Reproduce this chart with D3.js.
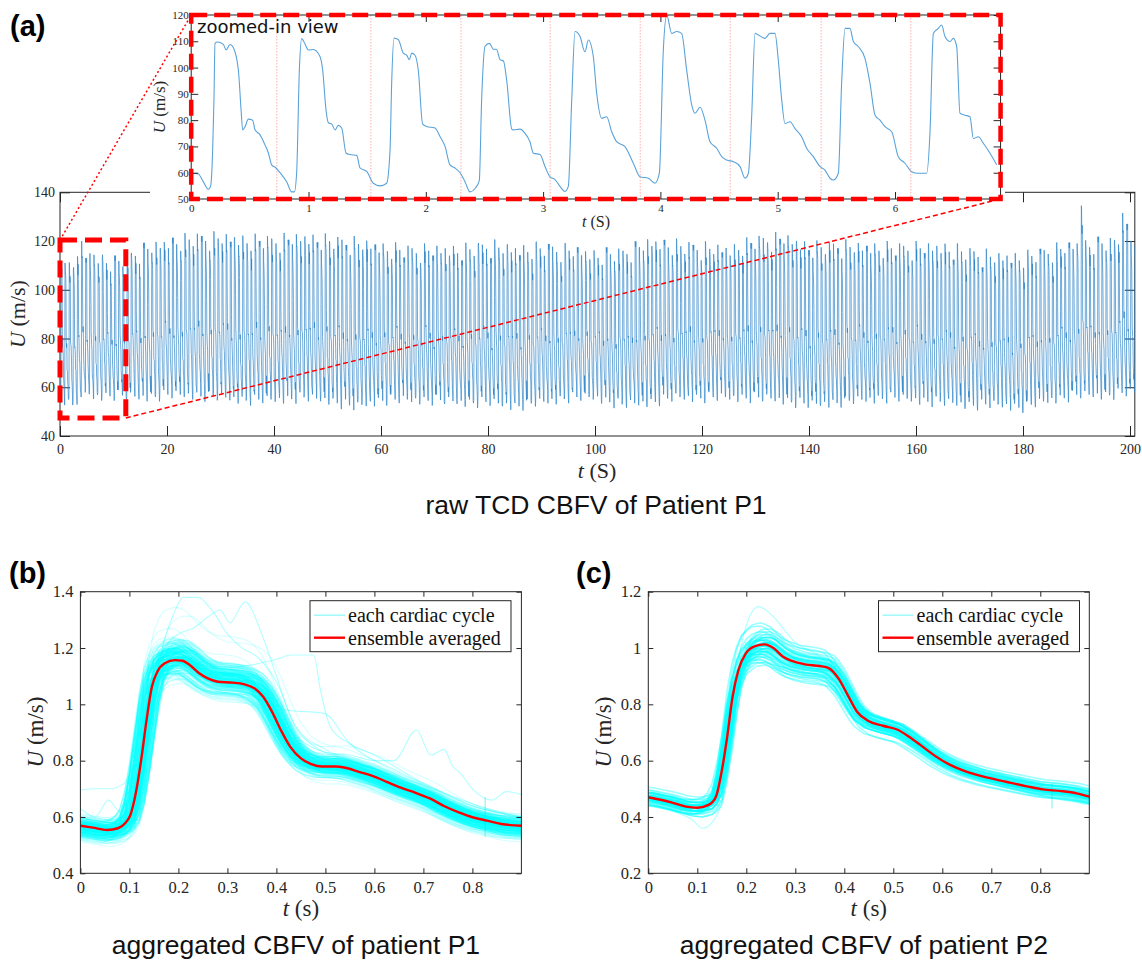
<!DOCTYPE html>
<html><head><meta charset="utf-8">
<script src="https://cdn.jsdelivr.net/npm/d3@7"></script>
<style>body{margin:0;background:#fff}svg{display:block}</style>
</head><body>
<svg id="fig" width="1142" height="967"></svg>
<script>
// ---------------- DATA ----------------
// zoomed-in raw trace (first ~6.9 s)
const insetT = [0,0.018,0.061,0.103,0.146,0.166,0.183,0.194,0.203,0.223,0.274,0.297,0.331,0.359,0.402,0.425,0.439,0.459,0.487,0.524,0.544,0.587,0.629,0.658,0.686,0.723,0.757,0.814,0.857,0.879,0.899,0.922,0.942,0.970,0.999,1.041,1.098,1.121,1.149,1.169,1.198,1.226,1.254,1.283,1.320,1.354,1.411,1.439,1.496,1.553,1.610,1.666,1.695,1.709,1.729,1.766,1.808,1.837,1.860,1.880,1.908,1.936,1.973,2.007,2.078,2.121,2.164,2.206,2.249,2.292,2.334,2.377,2.420,2.456,2.476,2.505,2.542,2.576,2.604,2.633,2.662,2.690,2.733,2.746,2.803,2.846,2.888,2.917,2.974,3.016,3.059,3.101,3.144,3.187,3.215,3.244,3.272,3.315,3.357,3.386,3.428,3.457,3.500,3.542,3.585,3.627,3.698,3.769,3.826,3.897,3.954,3.991,4.025,4.054,4.096,4.139,4.181,4.224,4.267,4.295,4.338,4.380,4.423,4.480,4.523,4.565,4.622,4.679,4.721,4.750,4.778,4.807,4.835,4.892,4.934,4.977,5.005,5.034,5.062,5.105,5.148,5.204,5.247,5.304,5.361,5.403,5.446,5.474,5.517,5.545,5.574,5.616,5.645,5.687,5.744,5.787,5.830,5.872,5.915,5.972,6.028,6.085,6.142,6.199,6.270,6.298,6.327,6.369,6.398,6.426,6.469,6.497,6.526,6.554,6.597,6.639,6.668,6.710,6.753,6.810,6.867];
const insetV = [60,59.8,59.5,56.6,53.7,55,68.7,87.7,109.2,109.7,108.8,106.7,108.8,107.6,99.1,84,76.3,77.5,80.4,80,76.3,74.4,70.6,67.5,63,61.8,60,56.6,52.7,52.7,60,99,111,109,106.7,106.9,104.2,99,84,79,78.5,76.3,78,77,67.5,66.9,66.6,61.8,60.5,56,55,56,68.5,94,111.2,110.6,105.5,104.7,103,105.5,104.7,99,78.5,77.6,77,73.8,70,63,61.8,60,56.6,52.7,54,57,87.7,108.1,109.2,107,106.9,103,102.5,95,76.6,76.3,76.6,75,71.8,67.4,66.9,62.4,58.4,57.4,54.8,52.9,54.8,87.7,113.7,111.8,106,110.5,104.2,90.2,80.7,81.3,75.6,71.8,69.9,63.6,58.5,57.9,56,59.8,106.7,120,113,113.7,113,99,85.8,82.6,84.9,80,71.8,69.3,66.1,64.8,64.2,62.3,57.9,59.8,81.3,113,112.4,111.1,113,113,102.9,87.7,78.7,79.4,76.8,73.7,69.3,66.1,62.3,61,57.9,57.2,59.8,94,114.9,114.9,109.9,108,103.5,94,81.9,80,77.5,75.6,66.1,63.6,60.4,59.8,59.8,75,113,114.9,116.2,111.8,109.9,111.1,108,82.6,81.9,81.3,73,73.7,71.2,67.4,63];
// cardiac-cycle boundaries marked in the inset (s)
const cycleMarks = [0.73,1.532,2.30,3.06,3.828,4.595,5.37,6.135];
// upper / lower envelope of the 200 s record, every 5 s
const envT = [0,5,10,15,20,25,30,35,40,45,50,55,60,65,70,75,80,85,90,95,100,105,110,115,120,125,130,135,140,145,150,155,160,165,170,175,180,185,190,195,200];
const peakEnv = [113,115,112,117,120,122,122,121,121,122,121,120,118,117,117,117,119,117,118,117,115,116,120,119,118,117,121,122,118,119,118,118,118,118,116,114,114,117,119,120,121];
const troughEnv = [54,55,56,55,56,56,55,54,54,55,54,51,54,54,54,53,53,51.5,53,55,55,52,53,55,55,55,55,54,52,53,54,55,54,53,52,52,51,54,56,56,57];
const peakJitter = [0,-3,1,-2,-5,2,-1,-4,1,0,-2,-6,2,-1,-3,1,-2];
const troughJitter = [0,1.5,-1,2,0.5,-1.5,3,1,-0.5,2.5,1];
const spikes = [[191.2,134.5],[198.8,131.5],[199.6,127]];
const mainXMax = 200.9;

// ensemble averages
const meanBT = [0,0.0255,0.0547,0.0766,0.0912,0.102,0.113,0.124,0.135,0.146,0.157,0.172,0.193,0.208,0.223,0.241,0.26,0.281,0.311,0.333,0.355,0.373,0.391,0.409,0.428,0.45,0.471,0.493,0.523,0.545,0.567,0.596,0.625,0.654,0.684,0.713,0.742,0.771,0.80,0.83,0.859,0.90];
const meanBV = [0.569,0.562,0.554,0.560,0.578,0.607,0.684,0.802,0.944,1.063,1.116,1.146,1.157,1.155,1.140,1.112,1.092,1.080,1.077,1.072,1.057,1.027,0.974,0.909,0.850,0.808,0.788,0.779,0.779,0.773,0.761,0.746,0.725,0.704,0.686,0.666,0.639,0.617,0.599,0.587,0.575,0.569];
const meanCT = [0,0.047,0.077,0.10,0.123,0.138,0.149,0.161,0.172,0.184,0.199,0.218,0.237,0.256,0.275,0.293,0.32,0.35,0.369,0.388,0.407,0.426,0.449,0.479,0.51,0.532,0.555,0.585,0.616,0.646,0.684,0.73,0.775,0.805,0.843,0.874,0.90];
const meanCV = [0.470,0.452,0.437,0.433,0.443,0.472,0.555,0.685,0.827,0.922,0.981,1.007,1.013,0.999,0.969,0.954,0.942,0.936,0.928,0.892,0.833,0.774,0.741,0.724,0.709,0.685,0.656,0.617,0.585,0.563,0.543,0.525,0.508,0.498,0.492,0.484,0.472];
// per-cycle timing offsets (s)
const dtB = [0,-0.012,0.008,-0.004,0.015,-0.02,0.004,0.01,-0.008,0.02,-0.015,0.006,-0.002];
// patient P2 per-cycle peak / trough / timing
const peakC = [1.01,0.98,1.04,0.99,1.06,1.02,0.96,1.00,1.03,0.97,1.05,1.01,0.99,1.08,0.95,1.02,1.00,1.04,0.98,1.03,1.01,0.97,1.06,0.99,1.02,1.00,0.94,1.04,1.01,0.98,1.03,1.07,0.99,1.00,1.02,0.96,1.05,1.01,0.98,1.03,1.00,0.97,1.04,1.02,0.99,1.01,0.95,1.03,1.00,1.09];
const troughC = [0.43,0.42,0.45,0.44,0.41,0.43,0.46,0.42,0.44,0.43,0.40,0.45,0.43,0.42,0.44,0.47,0.43,0.41,0.44,0.42,0.45,0.43,0.42,0.44,0.46,0.43,0.41,0.44,0.42,0.43,0.45,0.42,0.44,0.43,0.40,0.44,0.42,0.45,0.43,0.41,0.44,0.43,0.46,0.42,0.43,0.44,0.41,0.45,0.43,0.42];
const dtC = [0,-0.008,0.006,0.012,-0.004,0.003,-0.012,0.008,0,-0.006,0.01,-0.002,0.005,-0.01,0.002,0.007,-0.005,0.011,-0.009,0.001,0.004,-0.007,0.009,-0.003,0.006,-0.011,0.002,0.008,-0.001,0.005,-0.006,0.01,-0.004,0.003,0.012,-0.008,0.001,0.007,-0.002,-0.009,0.004,0.006,-0.005,0.009,-0.003,0.002,-0.01,0.005,0.008,-0.006];
// individual outlying cycles
const outB = [
 {t:[0,0.05,0.09,0.11,0.13,0.15,0.17,0.19,0.21,0.24,0.27,0.3,0.33,0.36,0.4,0.44,0.5,0.6,0.7,0.8,0.9], v:[0.6,0.58,0.58,0.62,0.8,1.05,1.22,1.32,1.38,1.38,1.33,1.25,1.2,1.17,1.08,0.92,0.84,0.77,0.68,0.62,0.6]},
 {t:[0,0.05,0.1,0.12,0.14,0.16,0.18,0.2,0.23,0.26,0.285,0.305,0.336,0.37,0.4,0.43,0.47,0.55,0.65,0.75,0.85,0.9], v:[0.57,0.56,0.58,0.7,0.95,1.15,1.22,1.25,1.27,1.31,1.335,1.29,1.364,1.25,1.1,0.95,0.86,0.8,0.74,0.66,0.6,0.58]},
 {t:[0,0.05,0.1,0.12,0.14,0.16,0.2,0.25,0.3,0.35,0.4,0.43,0.476,0.49,0.51,0.55,0.6,0.7,0.8,0.9], v:[0.58,0.57,0.59,0.72,0.98,1.12,1.17,1.15,1.13,1.14,1.16,1.175,1.175,1.05,0.92,0.86,0.82,0.72,0.64,0.6]},
 {t:[0,0.03,0.06,0.09,0.11,0.13,0.15,0.18,0.22,0.3,0.38,0.42,0.46,0.5,0.55,0.6,0.64,0.686,0.715,0.742,0.76,0.776,0.8,0.84,0.87,0.9], v:[0.695,0.70,0.70,0.72,0.78,0.86,1.0,1.12,1.15,1.1,1.02,0.92,0.86,0.83,0.82,0.8,0.8,0.909,0.82,0.84,0.78,0.755,0.7,0.66,0.69,0.68]},
 {t:[0,0.03,0.0575,0.08,0.111,0.13,0.15,0.18,0.25,0.35,0.42,0.497,0.55,0.65,0.75,0.85,0.9], v:[0.63,0.6,0.66,0.62,0.85,0.95,1.1,1.18,1.14,1.1,0.98,0.968,0.86,0.76,0.68,0.62,0.6]}
];
const outC = [
 {t:[0,0.05,0.1,0.14,0.16,0.18,0.2,0.225,0.25,0.3,0.35,0.4,0.45,0.5,0.6,0.7,0.8,0.9], v:[0.48,0.46,0.44,0.47,0.66,0.92,1.08,1.147,1.12,1.02,0.97,0.88,0.77,0.74,0.63,0.56,0.52,0.5]},
 {t:[0,0.05,0.09,0.111,0.13,0.15,0.17,0.19,0.22,0.3,0.38,0.42,0.48,0.55,0.65,0.75,0.85,0.9], v:[0.44,0.42,0.39,0.36,0.38,0.45,0.62,0.85,0.95,0.92,0.88,0.78,0.7,0.66,0.56,0.5,0.46,0.45]}
];
const jumpB = {t:0.826, lo:0.53, hi:0.67};
const jumpC = {t:0.824, lo:0.43, hi:0.52};
// ticks
const mainXTicks = [0,20,40,60,80,100,120,140,160,180,200];
const mainYTicks = [40,60,80,100,120,140];
const insetXTicks = [0,1,2,3,4,5,6];
const insetYTicks = [50,60,70,80,90,100,110,120];
const bXTicks = [0,0.1,0.2,0.3,0.4,0.5,0.6,0.7,0.8];
const bYTicks = [0.4,0.6,0.8,1,1.2,1.4];
const cYTicks = [0.2,0.4,0.6,0.8,1,1.2];
const zoomBox = {t0:0, t1:12.3, v0:47.4, v1:120.4};

// ---------------- HELPERS ----------------
function lerp(xs, ys, x){
  if (x <= xs[0]) return ys[0];
  if (x >= xs[xs.length-1]) return ys[ys.length-1];
  const i = d3.bisectRight(xs, x) - 1;
  const f = (x - xs[i])/(xs[i+1]-xs[i]);
  return ys[i] + f*(ys[i+1]-ys[i]);
}
const svg = d3.select("#fig");
const SERIF = "'Liberation Serif','Times New Roman',serif";
const SANS = "'Liberation Sans',Arial,sans-serif";
const AX = "#262626";

function styleAxis(g, fs){
  g.attr("font-family", SERIF).attr("font-size", fs);
  g.select(".domain").remove();
  g.selectAll(".tick line").attr("stroke", AX).attr("stroke-width", 1);
  g.selectAll(".tick text").attr("fill", AX).style("font-family", SERIF).style("font-size", fs+"px");
}
function boxAxes(x, y, xt, yt, tick, fs, padX, padY, fmt){
  const [x0,x1] = x.range(), [y0,y1] = y.range();
  const g = svg.append("g");
  const gb = g.append("g").attr("transform",`translate(0,${y0})`)
    .call(d3.axisBottom(x).tickValues(xt).tickSize(-tick).tickSizeOuter(0).tickPadding(padX).tickFormat(fmt||d3.format("")));
  styleAxis(gb, fs);
  const gt = g.append("g").attr("transform",`translate(0,${y1})`)
    .call(d3.axisTop(x).tickValues(xt).tickSize(-tick).tickSizeOuter(0).tickFormat(""));
  styleAxis(gt, fs);
  const gl = g.append("g").attr("transform",`translate(${x0},0)`)
    .call(d3.axisLeft(y).tickValues(yt).tickSize(-tick).tickSizeOuter(0).tickPadding(padY).tickFormat(fmt||d3.format("")));
  styleAxis(gl, fs);
  const gr = g.append("g").attr("transform",`translate(${x1},0)`)
    .call(d3.axisRight(y).tickValues(yt).tickSize(-tick).tickSizeOuter(0).tickFormat(""));
  styleAxis(gr, fs);
  g.append("rect").attr("x",x0).attr("y",y1).attr("width",x1-x0).attr("height",y0-y1)
    .attr("fill","none").attr("stroke",AX).attr("stroke-width",1);
  return g;
}
function axisLabel(x, y, ital, rest, fs, rot){
  const t = svg.append("text").attr("text-anchor","middle").style("font-family",SERIF)
    .style("font-size",fs+"px").attr("fill",AX)
    .attr("transform",`translate(${x},${y})${rot?" rotate(-90)":""}`);
  t.append("tspan").style("font-style","italic").text(ital);
  t.append("tspan").text(rest);
}
function clip(id, x, y){
  const [x0,x1]=x.range(), [y0,y1]=y.range();
  svg.append("clipPath").attr("id",id).append("rect").attr("x",x0).attr("y",y1).attr("width",x1-x0).attr("height",y0-y1);
}

// ---------------- MAIN SIGNAL ----------------
const templates = [];
for (let i=0;i<cycleMarks.length-1;i++){
  const a=cycleMarks[i], b=cycleMarks[i+1];
  const pts=[[0, lerp(insetT,insetV,a)]];
  insetT.forEach((t,j)=>{ if(t>a && t<b) pts.push([(t-a)/(b-a), insetV[j]]); });
  pts.push([1, lerp(insetT,insetV,b)]);
  const vs = pts.map(p=>p[1]);
  templates.push({dur:b-a, pts, min:d3.min(vs), max:d3.max(vs)});
}
const mainPts = [];
const cycles = templates.map(tp=>({P:tp.max, T:tp.min}));
insetT.forEach((t,j)=>{ if (t<=cycleMarks[cycleMarks.length-1]) mainPts.push([t, insetV[j]]); });
{
  let t0 = cycleMarks[cycleMarks.length-1], k = 0;
  while (t0 < mainXMax){
    const tp = templates[k % templates.length];
    let P = lerp(envT, peakEnv, t0) + peakJitter[k % peakJitter.length];
    const T = lerp(envT, troughEnv, t0) + troughJitter[k % troughJitter.length];
    spikes.forEach(s=>{ if (s[0]>=t0 && s[0]<t0+tp.dur) P = s[1]; });
    tp.pts.forEach(p=>{ if (p[0]>0) mainPts.push([t0+p[0]*tp.dur, T+(p[1]-tp.min)/(tp.max-tp.min)*(P-T)]); });
    cycles.push({P,T});
    t0 += tp.dur; k++;
  }
}

// ---------------- PANEL (a) ----------------
const xM = d3.scaleLinear().domain([0, mainXMax]).range([60, 60 + 5.35*mainXMax]);
const yM = d3.scaleLinear().domain([40,140]).range([436, 192.3]);
clip("clipM", xM, yM);
boxAxes(xM, yM, mainXTicks, mainYTicks, 10, 14, 8, 5);
svg.append("path").datum(mainPts).attr("clip-path","url(#clipM)")
  .attr("fill","none").attr("stroke","#2a82c8").attr("stroke-width",0.75).attr("stroke-opacity",0.9)
  .attr("d", d3.line().x(d=>xM(d[0])).y(d=>yM(d[1])));
// zoom rectangle
svg.append("rect").attr("x",xM(zoomBox.t0)).attr("y",yM(zoomBox.v1))
  .attr("width",xM(zoomBox.t1)-xM(zoomBox.t0)).attr("height",yM(zoomBox.v0)-yM(zoomBox.v1))
  .attr("fill","none").attr("stroke","#ff0000").attr("stroke-width",5).attr("stroke-dasharray","17,8");
axisLabel(597, 478, "t", " (S)", 22, false);
axisLabel(25, 314, "U", " (m/s)", 22, true);
svg.append("text").attr("x",596).attr("y",514).attr("text-anchor","middle")
  .style("font-family",SANS).style("font-size","26.5px").attr("fill","#111").text("raw TCD CBFV of Patient P1");

// inset
const xI = d3.scaleLinear().domain([0,6.9]).range([191.2, 191.2+117.3*6.9]);
const yI = d3.scaleLinear().domain([50,120]).range([199, 15]);
svg.append("rect").attr("x",150).attr("y",0).attr("width",855).attr("height",231).attr("fill","#fff");
clip("clipI", xI, yI);
svg.append("g").selectAll("line").data(cycleMarks).join("line")
  .attr("x1",d=>xI(d)).attr("x2",d=>xI(d)).attr("y1",yI(120)).attr("y2",yI(50))
  .attr("stroke","#ff9a9a").attr("stroke-width",0.8).attr("stroke-dasharray","1.5,1.5");
svg.append("path").datum(insetT.map((t,i)=>[t,insetV[i]])).attr("clip-path","url(#clipI)")
  .attr("fill","none").attr("stroke","#5aa3da").attr("stroke-width",1.1)
  .attr("d", d3.line().x(d=>xI(d[0])).y(d=>yI(d[1])).curve(d3.curveMonotoneX));
boxAxes(xI, yI, insetXTicks, insetYTicks, 7, 11, 5, 2.5);
svg.append("rect").attr("x",xI.range()[0]).attr("y",yI.range()[1])
  .attr("width",xI.range()[1]-xI.range()[0]).attr("height",yI.range()[0]-yI.range()[1])
  .attr("fill","none").attr("stroke","#ff0000").attr("stroke-width",4.5).attr("stroke-dasharray","16,7");
svg.append("text").attr("x",197).attr("y",33).style("font-family","'DejaVu Sans',sans-serif")
  .style("font-size","18px").attr("fill","#111").text("zoomed-in view");
axisLabel(596, 227, "t", " (S)", 16, false);
axisLabel(165, 107, "U", " (m/s)", 17, true);
// connectors
svg.append("line").attr("x1",xM(zoomBox.t0)).attr("y1",yM(zoomBox.v1)).attr("x2",xI.range()[0]).attr("y2",yI.range()[1])
  .attr("stroke","#ff0000").attr("stroke-width",1.5).attr("stroke-dasharray","2,2.5");
svg.append("line").attr("x1",xM(zoomBox.t1)).attr("y1",yM(zoomBox.v0)).attr("x2",xI.range()[1]).attr("y2",yI.range()[0])
  .attr("stroke","#ff0000").attr("stroke-width",1.5).attr("stroke-dasharray","5,3");

// ---------------- PANELS (b) & (c) ----------------
const tGrid = d3.range(0, 0.9001, 0.01);
function panel(opts){
  const x = d3.scaleLinear().domain([0,0.9]).range([opts.x0, opts.x0 + 490*0.9]);
  const y = d3.scaleLinear().domain(opts.yDom).range([873.3, 591.7]);
  const id = "clip"+opts.name;
  clip(id, x, y);
  const line = d3.line().x(d=>x(d[0])).y(d=>y(d[1]));
  const g = svg.append("g").attr("clip-path",`url(#${id})`);
  const mMin = d3.min(opts.mV), mMax = d3.max(opts.mV);
  opts.cyc.forEach((c,k)=>{
    const pts = tGrid.map(t=>[t, c.T + (lerp(opts.mT, opts.mV, t - c.dt) - mMin)*(c.P - c.T)/(mMax - mMin)]);
    g.append("path").datum(pts).attr("fill","none").attr("stroke","#00ffff")
      .attr("stroke-width",opts.sw).attr("stroke-opacity",opts.op).attr("d",line);
  });
  const sm = d3.line().x(d=>x(d[0])).y(d=>y(d[1])).curve(d3.curveMonotoneX);
  opts.out.forEach(o=>{
    g.append("path").datum(o.t.map((t,i)=>[t,o.v[i]])).attr("fill","none").attr("stroke","#00ffff")
      .attr("stroke-width",1.1).attr("stroke-opacity",0.3).attr("d",sm);
  });
  g.append("line").attr("x1",x(opts.jump.t)).attr("x2",x(opts.jump.t)).attr("y1",y(opts.jump.lo)).attr("y2",y(opts.jump.hi))
    .attr("stroke","#00e0e0").attr("stroke-width",1).attr("stroke-opacity",0.5);
  g.append("path").datum(opts.mT.map((t,i)=>[t,opts.mV[i]])).attr("fill","none").attr("stroke","#ff0000")
    .attr("stroke-width",2.4).attr("d", sm);
  boxAxes(x, y, bXTicks, opts.yTicks, 5, 16.5, 8, 7, d3.format(""));
  // legend
  const lx = opts.legX, ly = 600.7;
  const lg = svg.append("g");
  lg.append("rect").attr("x",lx).attr("y",ly).attr("width",201).attr("height",51)
    .attr("fill","#fff").attr("stroke",AX).attr("stroke-width",1);
  lg.append("line").attr("x1",lx+4).attr("x2",lx+35).attr("y1",ly+14.5).attr("y2",ly+14.5)
    .attr("stroke","#a5f8f8").attr("stroke-width",1.6);
  lg.append("line").attr("x1",lx+4).attr("x2",lx+35).attr("y1",ly+37).attr("y2",ly+37)
    .attr("stroke","#ff0000").attr("stroke-width",2.4);
  lg.append("text").attr("x",lx+38).attr("y",ly+21).style("font-family",SERIF).style("font-size","20px").attr("fill","#111").text("each cardiac cycle");
  lg.append("text").attr("x",lx+38).attr("y",ly+44.3).style("font-family",SERIF).style("font-size","20px").attr("fill","#111").text("ensemble averaged");
  const cx = (x.range()[0]+x.range()[1])/2;
  axisLabel(cx, 916, "t", " (s)", 23, false);
  axisLabel(opts.x0 - 37, 732, "U", " (m/s)", 23, true);
  svg.append("text").attr("x",cx - 5).attr("y",954).attr("text-anchor","middle")
    .style("font-family",SANS).style("font-size","26.5px").attr("fill","#111").text(opts.title);
  svg.append("text").attr("x",opts.labX).attr("y",583).style("font-family",SANS).style("font-weight","bold")
    .style("font-size","29px").attr("fill","#000").text(opts.lab);
}
panel({name:"B", x0:80.4, yDom:[0.4,1.4], yTicks:bYTicks, mT:meanBT, mV:meanBV,
  cyc: cycles.map((c,k)=>({P:c.P/100, T:c.T/100, dt:dtB[k % dtB.length]})),
  out: outB, jump: jumpB, op: 0.17, sw: 1.1, legX: 310, title:"aggregated CBFV of patient P1", lab:"(b)", labX:9});
panel({name:"C", x0:648.3, yDom:[0.2,1.2], yTicks:cYTicks, mT:meanCT, mV:meanCV,
  cyc: peakC.map((p,k)=>({P:p, T:troughC[k], dt:dtC[k]})),
  out: outC, jump: jumpC, op: 0.4, sw: 1.6, legX: 878.5, title:"aggregated CBFV of patient P2", lab:"(c)", labX:576});
svg.append("text").attr("x",10).attr("y",36).style("font-family",SANS).style("font-weight","bold")
  .style("font-size","29px").attr("fill","#000").text("(a)");
</script>
</body></html>
